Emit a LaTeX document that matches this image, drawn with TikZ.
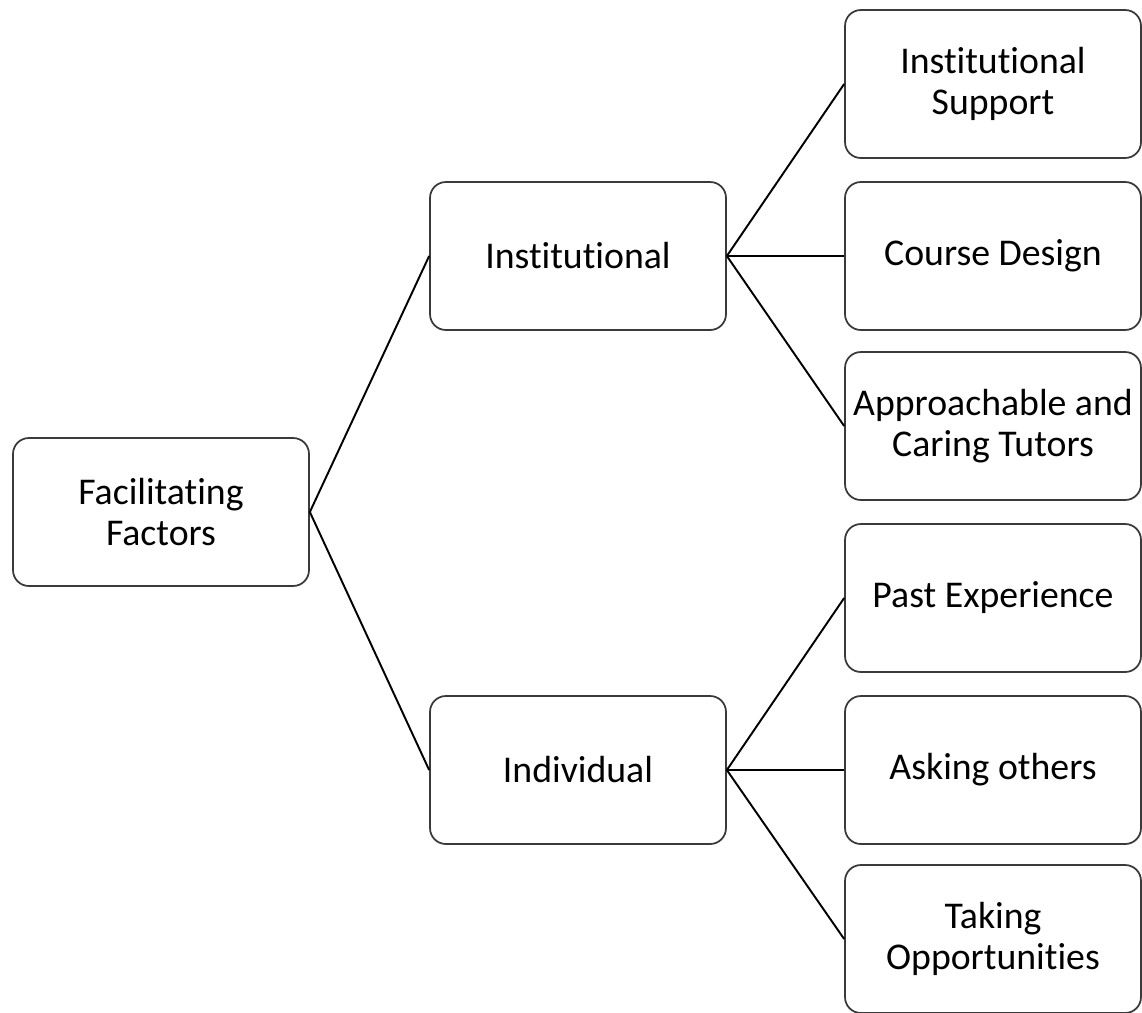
\documentclass[tikz,border=0pt]{standalone}
\usepackage{fontspec}
\setmainfont{Carlito}[Ligatures=NoCommon]
\usetikzlibrary{positioning}
\definecolor{boxline}{HTML}{3A3A3A}

\begin{document}
\begin{tikzpicture}[
    x=0.02cm, y=-0.02cm,
    box/.style={draw=boxline, line width=1pt, rounded corners=9pt, minimum width=5.92cm, minimum height=2.96cm, align=center, font=\fontsize{21.5}{23.5}\selectfont},
    link/.style={line width=1.1pt, black}
]
    \useasboundingbox (0,0) rectangle (1142,1012);

    % --- Root and second level ---
    \node[box] (factors) at (161, 512) {Facilitating\\Factors};
    \node[box] (inst) at (578, 256) {Institutional};
    \node[box] (indiv) at (578, 770) {Individual};

    % --- Leaves ---
    \node[box] (support) at (993, 84) {Institutional\\Support};
    \node[box] (course) at (993, 256) {Course Design};
    \node[box] (tutors) at (993, 426) {Approachable and\\Caring Tutors};
    \node[box] (past) at (993, 598) {Past Experience};
    \node[box] (asking) at (993, 770) {Asking others};
    \node[box] (taking) at (993, 939) {Taking\\Opportunities};

    % --- Connectors ---
    \draw[link] (factors.east) -- (inst.west);
    \draw[link] (factors.east) -- (indiv.west);
    \foreach \leaf in {support, course, tutors}
        \draw[link] (inst.east) -- (\leaf.west);
    \foreach \leaf in {past, asking, taking}
        \draw[link] (indiv.east) -- (\leaf.west);
\end{tikzpicture}
\end{document}
